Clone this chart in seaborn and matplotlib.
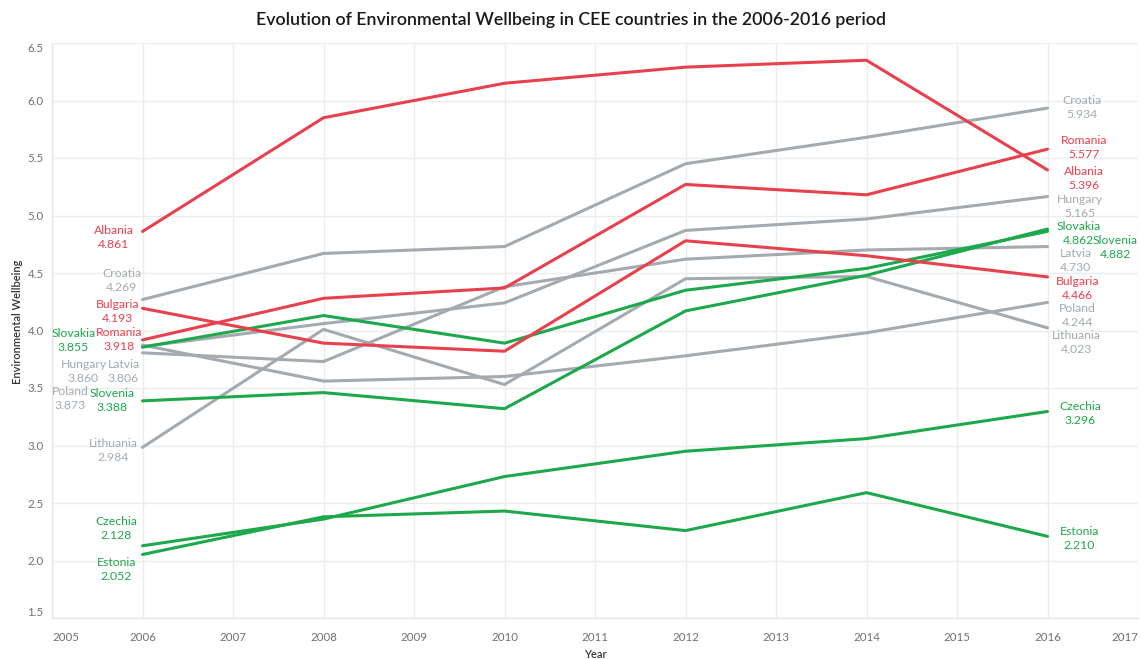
import seaborn as sns
import matplotlib.pyplot as plt
import pandas as pd

years = [2006, 2008, 2010, 2012, 2014, 2016]

# grey group
croatia = [4.269, 4.67, 4.73, 5.45, 5.68, 5.934]
hungary = [3.860, 4.06, 4.24, 4.87, 4.97, 5.165]
latvia = [3.806, 3.73, 4.38, 4.62, 4.70, 4.730]
poland = [3.873, 3.56, 3.60, 3.78, 3.98, 4.244]
lithuania = [2.984, 4.01, 3.53, 4.45, 4.47, 4.023]
# green group
slovakia = [3.855, 4.13, 3.89, 4.35, 4.54, 4.862]
slovenia = [3.388, 3.46, 3.32, 4.17, 4.48, 4.882]
czechia = [2.128, 2.36, 2.73, 2.95, 3.06, 3.296]
estonia = [2.052, 2.38, 2.43, 2.26, 2.59, 2.210]
# red group
albania = [4.861, 5.85, 6.15, 6.29, 6.35, 5.396]
romania = [3.918, 4.28, 4.37, 5.27, 5.18, 5.577]
bulgaria = [4.193, 3.89, 3.82, 4.78, 4.65, 4.466]

series = {
  'Croatia': croatia, 'Hungary': hungary, 'Latvia': latvia, 'Poland': poland,
  'Lithuania': lithuania, 'Slovakia': slovakia, 'Slovenia': slovenia,
  'Czechia': czechia, 'Estonia': estonia, 'Albania': albania,
  'Romania': romania, 'Bulgaria': bulgaria,
}

RED = '#e8414e'
GREEN = '#1ea84c'
GREY = '#a3abb0'
group = {
  'Croatia': GREY, 'Hungary': GREY, 'Latvia': GREY, 'Poland': GREY, 'Lithuania': GREY,
  'Slovakia': GREEN, 'Slovenia': GREEN, 'Czechia': GREEN, 'Estonia': GREEN,
  'Albania': RED, 'Romania': RED, 'Bulgaria': RED,
}

# label offsets in pixels (dx, dy) from first / last point
left_off = {
  'Albania': (-29, -6), 'Croatia': (-21, 19), 'Bulgaria': (-25, -3),
  'Slovakia': (-69, 7), 'Romania': (-23, 0), 'Hungary': (-59, -25),
  'Latvia': (-19, -19), 'Poland': (-72, -53), 'Slovenia': (-30, 0),
  'Lithuania': (-29, -3), 'Czechia': (-26, 17), 'Estonia': (-26, -15),
}
right_off = {
  'Croatia': (34, 1), 'Romania': (37, 2), 'Albania': (36, -9), 'Hungary': (32, -10),
  'Slovakia': (31, -2), 'Slovenia': (68, -18), 'Latvia': (28, -14),
  'Bulgaria': (30, -12), 'Poland': (30, -13), 'Lithuania': (29, -15),
  'Czechia': (33, -2), 'Estonia': (32, -2),
}

rows = []
for country, vals in series.items():
  for yr, v in zip(years, vals):
    rows.append({'Year': yr, 'Value': v, 'Country': country})
df = pd.DataFrame(rows)

sns.set_theme(style="white")
plt.rcParams['font.family'] = ['Lato', 'DejaVu Sans']

fig = plt.figure(figsize=(11.4, 6.59), dpi=100)
ax = fig.add_axes([52 / 1140, 1 - 618 / 659, (1138 - 52) / 1140, (618 - 43) / 659])

sns.lineplot(data=df, x='Year', y='Value', hue='Country', palette=group,
             linewidth=2.2, legend=False, ax=ax, zorder=3)

for country, vals in series.items():
  c = group[country]
  ax.annotate(f"{country}\n{vals[0]:.3f}", (years[0], vals[0]), xytext=left_off[country],
              textcoords='offset pixels', ha='center', va='center', fontsize=8.8,
              color=c, linespacing=1.33, zorder=5)
  ax.annotate(f"{country}\n{vals[-1]:.3f}", (years[-1], vals[-1]), xytext=right_off[country],
              textcoords='offset pixels', ha='center', va='center', fontsize=8.8,
              color=c, linespacing=1.33, zorder=5)

ax.set_xlim(2005, 2017)
ax.set_ylim(1.5, 6.5)
xt = list(range(2005, 2018))
yt = [1.5 + 0.5 * i for i in range(11)]
ax.set_xticks(xt)
ax.set_yticks(yt)
ax.set_xticklabels([str(x) for x in xt])
ax.set_yticklabels([f"{y:.1f}" for y in yt])
ax.grid(True, color='#ececec', linewidth=1, zorder=0)
ax.tick_params(axis='both', colors='#e0e0e0', length=4, width=1, labelsize=8.3,
               labelcolor='#707070', pad=2)
ax.tick_params(axis='x', pad=6)
xl = ax.get_xticklabels()
xl[0].set_ha('left')
xl[-1].set_ha('right')
yl = ax.get_yticklabels()
yl[0].set_va('bottom')
yl[-1].set_va('top')

for s in ['top', 'right']:
  ax.spines[s].set_visible(False)
for s in ['left', 'bottom']:
  ax.spines[s].set_color('#e6e6e6')
  ax.spines[s].set_linewidth(1)

ax.set_xlabel('')
ax.set_ylabel('')
fig.text(595 / 1140, 1 - 654 / 659, 'Year', ha='center', va='center', fontsize=8,
         color='#333333', fontweight='semibold')
fig.text(18 / 1140, 1 - 322 / 659, 'Environmental Wellbeing', ha='center', va='center',
         rotation=90, fontsize=8, color='#333333', fontweight='semibold')
fig.text(571 / 1140, 1 - 20 / 659,
         'Evolution of Environmental Wellbeing in CEE countries in the 2006-2016 period',
         ha='center', va='center', fontsize=12.8, color='#1a1a1a', fontweight='semibold')

plt.savefig('out.png', dpi=100)
